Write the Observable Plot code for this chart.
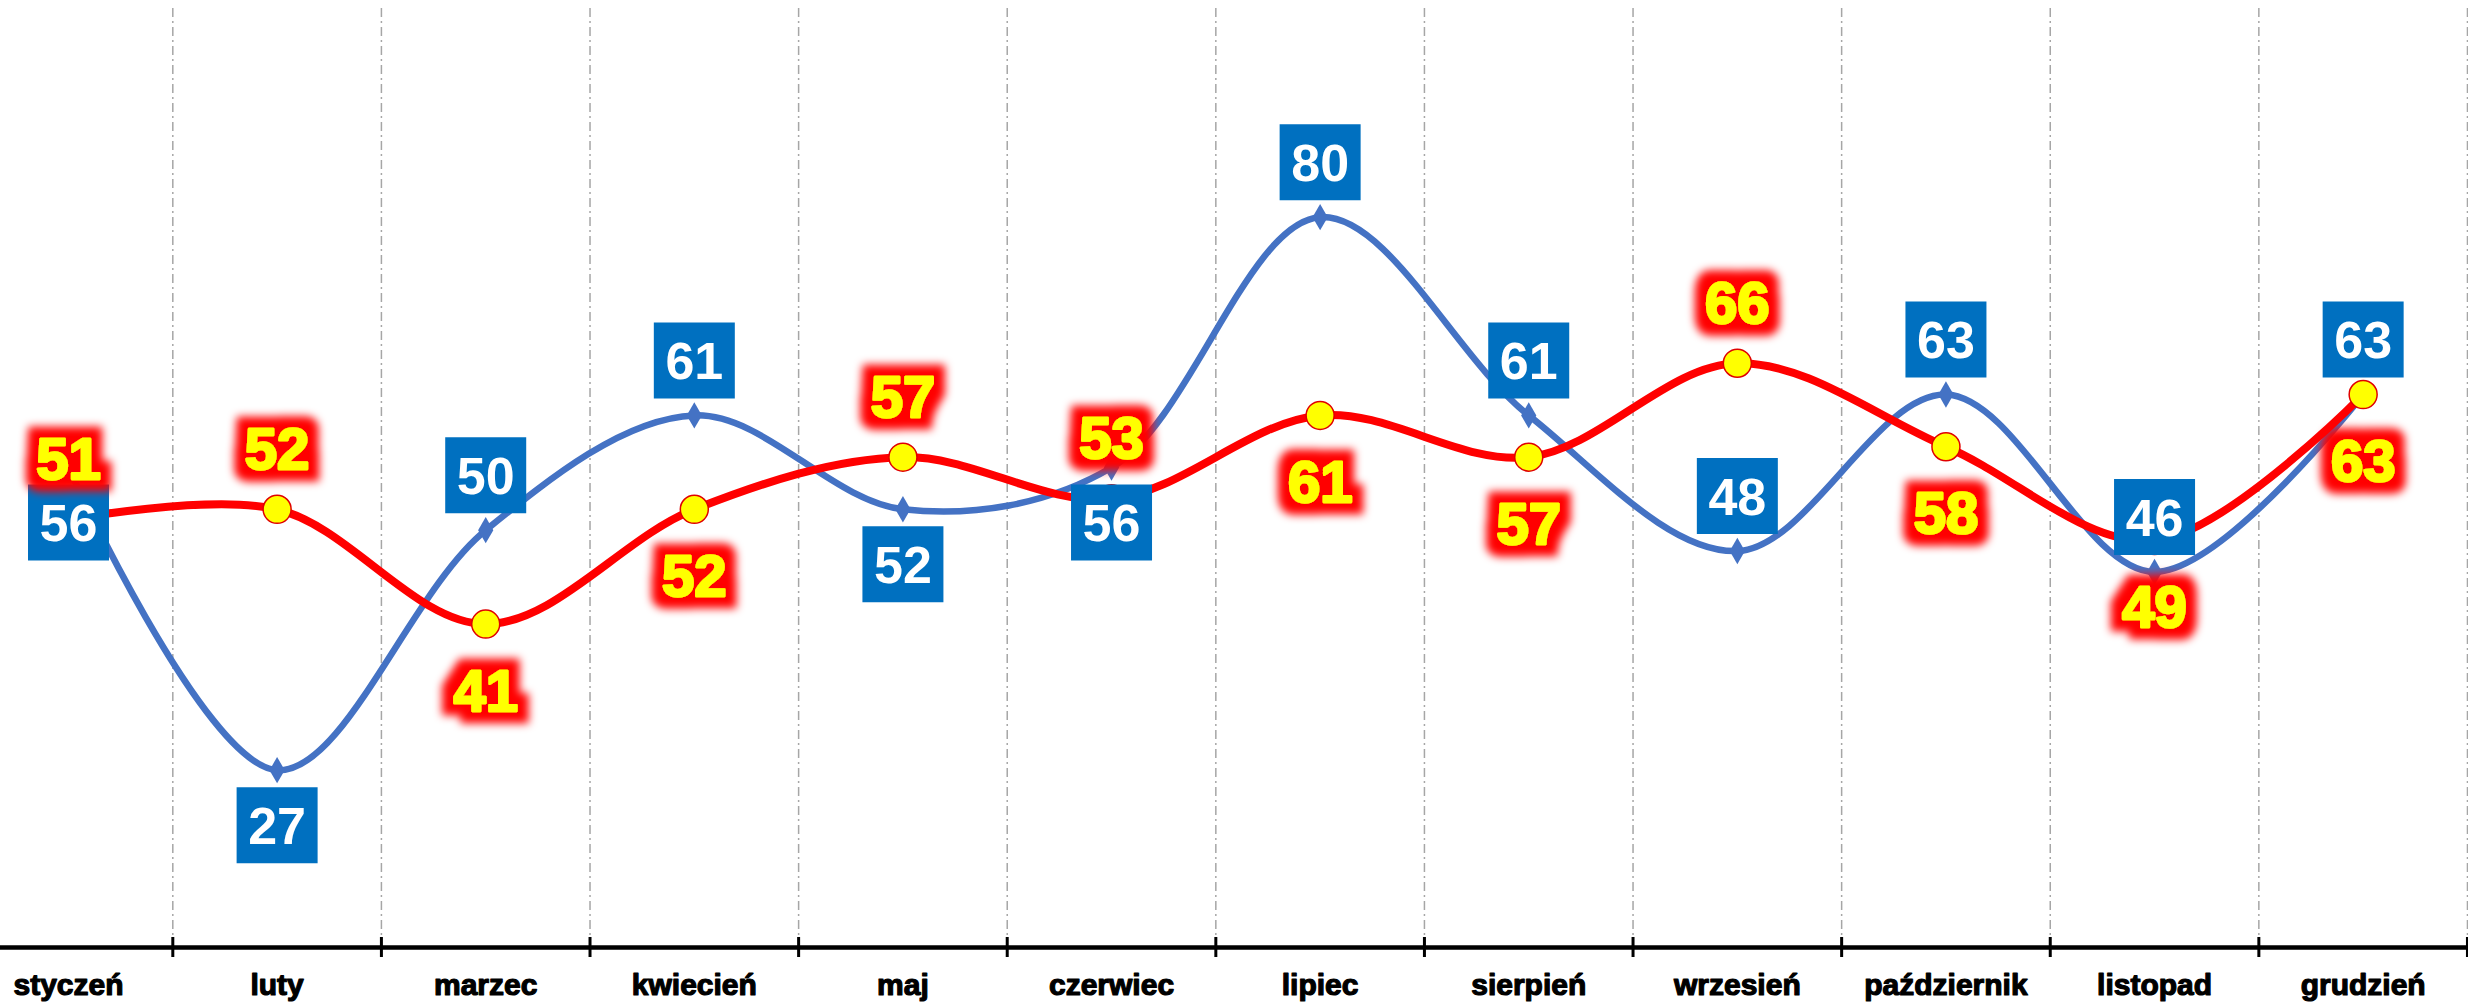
<!DOCTYPE html>
<html>
<head>
<meta charset="utf-8">
<script src="https://cdn.jsdelivr.net/npm/d3@7"></script>
<script src="https://cdn.jsdelivr.net/npm/@observablehq/plot@0.6"></script>
<style>
  html, body { margin: 0; padding: 0; background: #fff; overflow: hidden; }
  #chart svg { display: block; }
</style>
</head>
<body>
<div id="chart"></div>
<script>
const months = ["styczeń","luty","marzec","kwiecień","maj","czerwiec","lipiec","sierpień","wrzesień","październik","listopad","grudzień"];
const blueValues = [56,27,50,61,52,56,80,61,48,63,46,63];
const redValues  = [51,52,41,52,57,53,61,57,66,58,49,63];
// label placement: -1 above the point, +1 below the point
const blueLabelSide = [1,1,-1,-1,1,1,-1,-1,-1,-1,-1,-1];
const redLabelSide  = [-1,-1,1,1,-1,-1,1,1,-1,1,1,1];

const rows = months.map((m, i) => ({i, m, blue: blueValues[i], red: redValues[i], bs: blueLabelSide[i], rs: redLabelSide[i]}));
const boundaries = months.map((m, i) => i + 0.5);

const W = 2468, H = 1004, MT = 8, MB = 57;
const font = "'Liberation Sans', Arial, sans-serif";
const boxSymbol = { draw(ctx) { ctx.rect(-40.5, -38, 81, 76); } };

const blueAbove = rows.filter(d => d.bs < 0), blueBelow = rows.filter(d => d.bs > 0);
const redAbove = rows.filter(d => d.rs < 0), redBelow = rows.filter(d => d.rs > 0);

const chart = Plot.plot({
  width: W, height: H,
  marginLeft: 0, marginRight: 0, marginTop: MT, marginBottom: MB,
  style: { fontFamily: font, background: "white", overflow: "visible" },
  x: { type: "linear", domain: [-0.326, 11.505], axis: null },
  y: { domain: [10, 100], axis: null },
  marks: [
    Plot.ruleX(boundaries, { x: d => d, stroke: "#A6A6A6", strokeWidth: 1.5, strokeDasharray: "9,4,2,4" }),
    Plot.ruleY([10], { stroke: "black", strokeWidth: 4.5 }),
    Plot.ruleX(boundaries, { x: d => d, insetTop: H - MT - MB - 10, insetBottom: -10, stroke: "black", strokeWidth: 3 }),
    Plot.text(rows, { x: "i", text: "m", frameAnchor: "bottom", dy: 47, fontSize: 30, fontWeight: "bold", fill: "black", stroke: "black", strokeWidth: 1.2 }),
    Plot.line(rows, { x: "i", y: "blue", curve: "catmull-rom", stroke: "#4472C4", strokeWidth: 6.5 }),
    Plot.line(rows, { x: "i", y: "red", curve: "catmull-rom", stroke: "#FF0000", strokeWidth: 8 }),
    Plot.dot(rows, { x: "i", y: "blue", symbol: "diamond", r: 8, fill: "#4472C4" }),
    Plot.dot(rows, { x: "i", y: "red", r: 14, fill: "#FFFF00", stroke: "#E00000", strokeWidth: 1.5 }),
    Plot.dot(blueAbove, { x: "i", y: "blue", dy: -55, symbol: boxSymbol, fill: "#0070C0" }),
    Plot.dot(blueBelow, { x: "i", y: "blue", dy: 55, symbol: boxSymbol, fill: "#0070C0" }),
    Plot.text(blueAbove, { x: "i", y: "blue", text: "blue", dy: -53, fontSize: 52, fontWeight: "bold", fill: "white", lineAnchor: "middle" }),
    Plot.text(blueBelow, { x: "i", y: "blue", text: "blue", dy: 57, fontSize: 52, fontWeight: "bold", fill: "white", lineAnchor: "middle" }),
    Plot.text(redAbove, { x: "i", y: "red", text: "red", dy: -59, fontSize: 58, fontWeight: "bold", fill: "yellow", stroke: "yellow", strokeWidth: 2.5, lineAnchor: "middle" }),
    Plot.text(redBelow, { x: "i", y: "red", text: "red", dy: 68, fontSize: 58, fontWeight: "bold", fill: "yellow", stroke: "yellow", strokeWidth: 2.5, lineAnchor: "middle" })
  ]
});

// red glow behind the yellow data labels
const svg = d3.select(chart);
const defs = svg.insert("defs", ":first-child");
const f = defs.append("filter").attr("id", "redglow")
  .attr("x", "-50%").attr("y", "-50%").attr("width", "200%").attr("height", "200%");
f.append("feMorphology").attr("in", "SourceAlpha").attr("operator", "dilate").attr("radius", 11).attr("result", "dil");
f.append("feGaussianBlur").attr("in", "dil").attr("stdDeviation", 4).attr("result", "blur");
f.append("feFlood").attr("flood-color", "#FF0000").attr("result", "red");
f.append("feComposite").attr("in", "red").attr("in2", "blur").attr("operator", "in").attr("result", "glow");
const m = f.append("feMerge");
m.append("feMergeNode").attr("in", "glow");
m.append("feMergeNode").attr("in", "SourceGraphic");
svg.selectAll('g[fill="yellow"] text').attr("filter", "url(#redglow)");

document.getElementById("chart").appendChild(chart);
</script>
</body>
</html>
